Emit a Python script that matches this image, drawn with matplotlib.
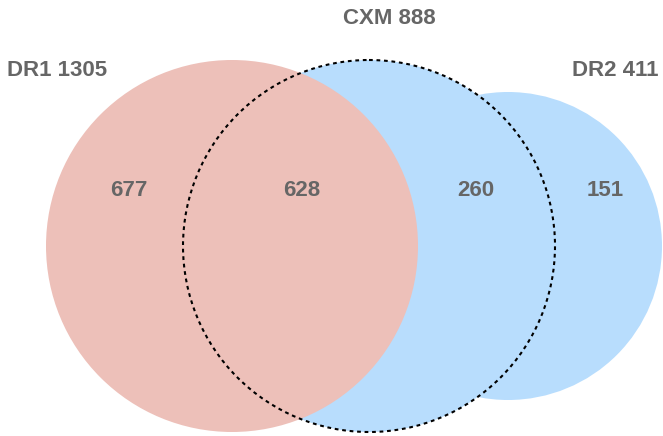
import matplotlib.pyplot as plt
from matplotlib.patches import Circle

set_names = ["DR1", "CXM", "DR2"]
set_sizes = [1305, 888, 411]
region_counts = [677, 628, 260, 151]

W, H = 663, 436
fig = plt.figure(figsize=(W / 100, H / 100), dpi=100)
ax = fig.add_axes([0, 0, 1, 1])
ax.set_xlim(0, W)
ax.set_ylim(H, 0)
ax.set_aspect("equal")
ax.axis("off")

red = "#edc0b9"
blue = "#b8ddfd"
grey = "#666666"

# circles (pixel layout)
ax.add_patch(Circle((508, 246), 154, color=blue, lw=0, zorder=1))
ax.add_patch(Circle((369, 246), 186, color=blue, lw=0, zorder=1))
ax.add_patch(Circle((232, 246), 186, color=red, lw=0, zorder=2))
ax.add_patch(Circle((369, 246), 186, fill=False, ec="black", lw=1.5,
                    ls=(0, (1.8, 1.8)), zorder=3))

font = dict(family=["Liberation Sans", "DejaVu Sans"], weight="bold",
            color=grey, fontsize=16, ha="center", va="center")

label_pos = [(57, 70), (389, 18), (615, 70)]
for (x, y), name, size in zip(label_pos, set_names, set_sizes):
    ax.text(x, y, f"{name} {size}", **font, zorder=4)

count_pos = [(129, 190), (302, 190), (476, 190), (605, 190)]
for (x, y), c in zip(count_pos, region_counts):
    ax.text(x, y, str(c), **font, zorder=4)

fig.savefig("out.png", dpi=100)
